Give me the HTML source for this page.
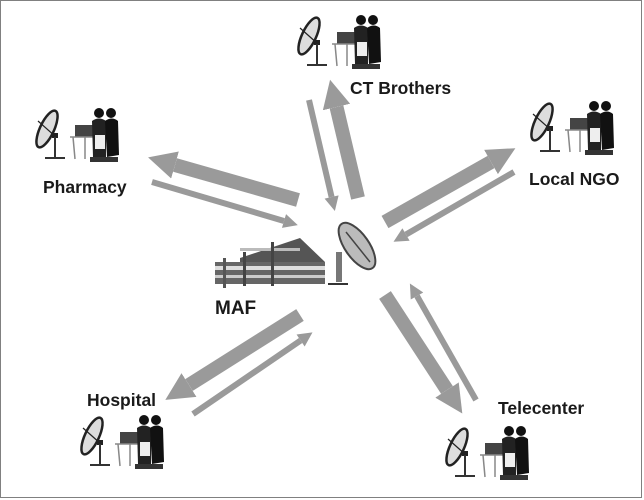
<!DOCTYPE html>
<html><head><style>
html,body{margin:0;padding:0;background:#fff;}
svg{display:block;}
text{font-family:"Liberation Sans",sans-serif;font-weight:bold;fill:#1a1a1a;}
</style></head><body>
<svg width="644" height="500" viewBox="0 0 644 500">
<defs>
<marker id="hb" viewBox="0 0 10 10" refX="0" refY="5" markerWidth="2" markerHeight="2.2" orient="auto" markerUnits="strokeWidth"><path d="M0,0 L10,5 L0,10z" fill="#9a9a9a"/></marker>
<marker id="ht" viewBox="0 0 10 10" refX="0" refY="5" markerWidth="2.6" markerHeight="2.4" orient="auto" markerUnits="strokeWidth"><path d="M0,0 L10,5 L0,10z" fill="#9a9a9a"/></marker>
<g id="ic">
<ellipse cx="12" cy="22" rx="7" ry="20" transform="rotate(25 12 22)" fill="#ddd" stroke="#222" stroke-width="2.5"/>
<line x1="3" y1="14" x2="21" y2="30" stroke="#222" stroke-width="1.2"/>
<rect x="17" y="26" width="6" height="5" fill="#222"/>
<line x1="20" y1="30" x2="20" y2="50" stroke="#333" stroke-width="2"/>
<line x1="10" y1="51" x2="30" y2="51" stroke="#333" stroke-width="2"/>
<rect x="40" y="18" width="20" height="12" fill="#444"/>
<path d="M35 30 L62 30 L60 52 M38 30 L40 52 M50 30 L50 52" stroke="#888" stroke-width="1.5" fill="none"/>
<circle cx="64" cy="6" r="5" fill="#111"/>
<circle cx="76" cy="6" r="5" fill="#111"/>
<path d="M57 14 Q64 9 71 14 L71 50 L58 50 Z" fill="#222"/>
<path d="M70 14 Q77 9 83 14 L84 48 L72 50 Z" fill="#111"/>
<rect x="60" y="28" width="10" height="14" fill="#eee"/>
<rect x="55" y="50" width="28" height="5" fill="#333"/>
</g>
</defs>
<rect x="0" y="0" width="642" height="498" fill="#fff"/>
<path d="M0.5 0.5 H641.5 V497.5 H0.5 Z" fill="none" stroke="#000" stroke-width="1" stroke-dasharray="1,1"/>

<g stroke="#9a9a9a" fill="none">
<line x1="298" y1="200" x2="175" y2="165" stroke-width="14" marker-end="url(#hb)"/>
<line x1="358" y1="198" x2="336.5" y2="107" stroke-width="14" marker-end="url(#hb)"/>
<line x1="385" y1="222" x2="491" y2="162" stroke-width="14" marker-end="url(#hb)"/>
<line x1="385" y1="295" x2="447" y2="390" stroke-width="14" marker-end="url(#hb)"/>
<line x1="300" y1="315" x2="189" y2="385" stroke-width="14" marker-end="url(#hb)"/>
<line x1="152" y1="182" x2="284" y2="221" stroke-width="6" marker-end="url(#ht)"/>
<line x1="309" y1="100" x2="331.6" y2="197" stroke-width="6" marker-end="url(#ht)"/>
<line x1="514" y1="172" x2="406" y2="234.5" stroke-width="6" marker-end="url(#ht)"/>
<line x1="476" y1="400" x2="417" y2="296" stroke-width="6" marker-end="url(#ht)"/>
<line x1="193" y1="414" x2="300.6" y2="340.5" stroke-width="6" marker-end="url(#ht)"/>
</g>

<use href="#ic" x="297" y="14"/>
<use href="#ic" x="35" y="107"/>
<use href="#ic" x="530" y="100"/>
<use href="#ic" x="80" y="414"/>
<use href="#ic" x="445" y="425"/>

<g>
<path d="M240 258 L300 238 L325 262 L325 284 L240 284 Z" fill="#555"/>
<rect x="215" y="262" width="110" height="22" fill="#666"/>
<rect x="215" y="266" width="110" height="4" fill="#ddd"/>
<rect x="215" y="275" width="110" height="3" fill="#ccc"/>
<rect x="240" y="248" width="60" height="3" fill="#bbb"/>
<rect x="223" y="258" width="3" height="30" fill="#555"/>
<rect x="243" y="252" width="3" height="34" fill="#444"/>
<rect x="271" y="242" width="3" height="44" fill="#444"/>
<ellipse cx="357" cy="246" rx="12" ry="27" transform="rotate(-35 357 246)" fill="#bbb" stroke="#444" stroke-width="2"/>
<line x1="346" y1="232" x2="370" y2="262" stroke="#444" stroke-width="1.5"/>
<rect x="336" y="252" width="6" height="30" fill="#777"/>
<line x1="328" y1="284" x2="348" y2="284" stroke="#333" stroke-width="2"/>
</g>

<text x="350" y="94" font-size="17.5">CT Brothers</text>
<text x="43" y="193" font-size="17.5">Pharmacy</text>
<text x="529" y="185" font-size="17.5">Local NGO</text>
<text x="215" y="314" font-size="19">MAF</text>
<text x="87" y="406" font-size="17.5">Hospital</text>
<text x="498" y="414" font-size="17.5">Telecenter</text>
</svg>
</body></html>
